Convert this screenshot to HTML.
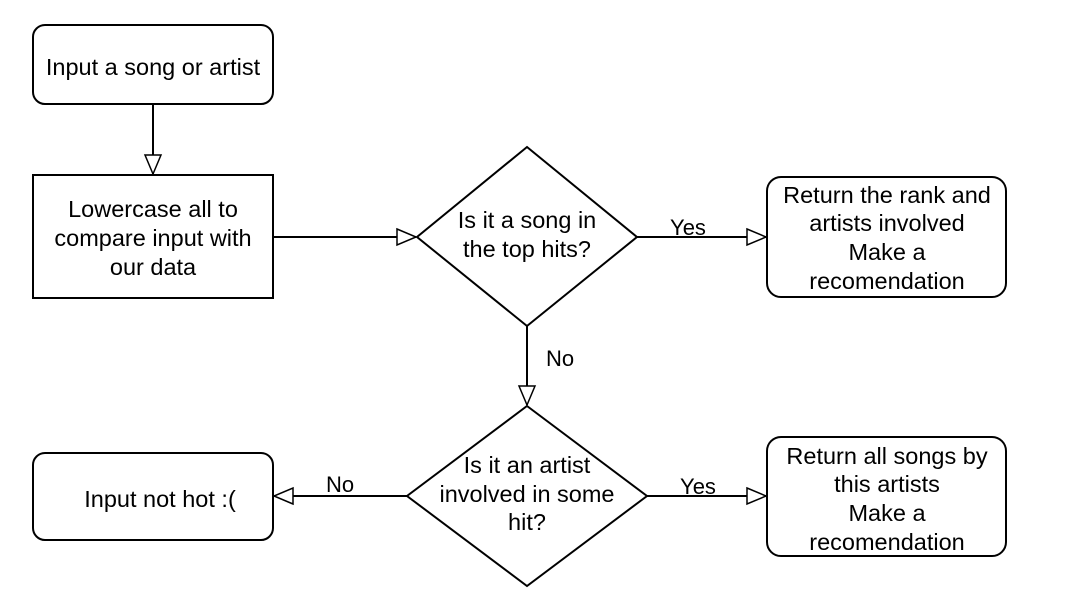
<!DOCTYPE html>
<html><head><meta charset="utf-8"><style>
html,body{margin:0;padding:0;background:#fff;width:1067px;height:613px;overflow:hidden}
text{font-family:"Liberation Sans",Arial,sans-serif;font-size:23.5px;fill:#000}
</style></head><body>
<svg width="1067" height="613" viewBox="0 0 1067 613" xmlns="http://www.w3.org/2000/svg">
<defs>
<marker id="a" markerWidth="22" markerHeight="20" refX="20" refY="10" orient="auto" markerUnits="userSpaceOnUse">
<path d="M1,2 L20,10 L1,18 Z" fill="#fff" stroke="#000" stroke-width="1.5"/>
</marker>
</defs>
<g fill="#fff" stroke="#000" stroke-width="2">
<rect x="33" y="25" width="240" height="79" rx="12"/>
<rect x="33" y="175" width="240" height="123"/>
<polygon points="527,147 637,237 527,326 417,237"/>
<rect x="767" y="177" width="239" height="120" rx="14"/>
<polygon points="527,406 647,496 527,586 407,496"/>
<rect x="33" y="453" width="240" height="87" rx="12"/>
<rect x="767" y="437" width="239" height="119" rx="14"/>
</g>
<g stroke="#000" stroke-width="2" fill="none">
<line x1="153" y1="104" x2="153" y2="174" marker-end="url(#a)"/>
<line x1="273" y1="237" x2="416" y2="237" marker-end="url(#a)"/>
<line x1="637" y1="237" x2="766" y2="237" marker-end="url(#a)"/>
<line x1="527" y1="326" x2="527" y2="405" marker-end="url(#a)"/>
<line x1="407" y1="496" x2="274" y2="496" marker-end="url(#a)"/>
<line x1="647" y1="496" x2="766" y2="496" marker-end="url(#a)"/>
</g>
<g text-anchor="middle">
<text x="153" y="75">Input a song or artist</text>
<text x="153" y="217">Lowercase all to</text>
<text x="153" y="246">compare input with</text>
<text x="153" y="275">our data</text>
<text x="527" y="228">Is it a song in</text>
<text x="527" y="257">the top hits?</text>
<text x="887" y="203">Return the rank and</text>
<text x="887" y="231">artists involved</text>
<text x="887" y="260">Make a</text>
<text x="887" y="289">recomendation</text>
<text x="527" y="473">Is it an artist</text>
<text x="527" y="502">involved in some</text>
<text x="527" y="530">hit?</text>
<text x="160" y="507">Input not hot :(</text>
<text x="887" y="464">Return all songs by</text>
<text x="887" y="492">this artists</text>
<text x="887" y="521">Make a</text>
<text x="887" y="550">recomendation</text>
<text x="688" y="235" style="font-size:22px">Yes</text>
<text x="560" y="366" style="font-size:22px">No</text>
<text x="340" y="492" style="font-size:22px">No</text>
<text x="698" y="494" style="font-size:22px">Yes</text>
</g>
</svg>
</body></html>
